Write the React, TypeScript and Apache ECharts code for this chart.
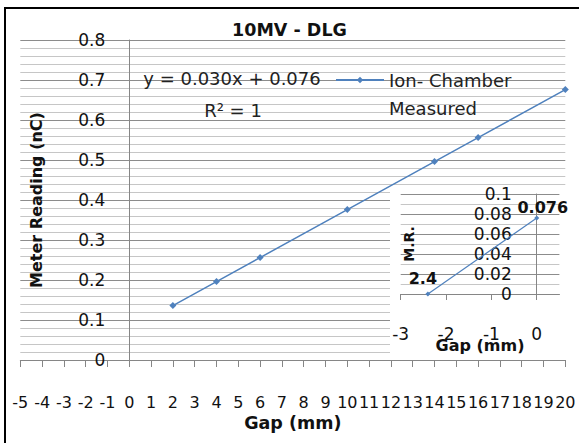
import React, { useEffect, useRef } from "react";
import * as echarts from "echarts";

const titleText = "10MV - DLG";
const gapMain = [2, 4, 6, 10, 14, 16, 20];
const meterMain = [0.136, 0.196, 0.256, 0.376, 0.496, 0.556, 0.676];
const seriesName = "Ion- Chamber Measured";
const legendLines = ["Ion- Chamber", "Measured"];
const equationText = "y = 0.030x + 0.076";
const r2Text = "R\u00B2 = 1";

const gapInset = [-2.4, 0];
const mrInset = [0, 0.076];
const insetLabels = ["2.4", "0.076"];
const insetXTicks = [-3, -2, -1, 0];

const FONT = "DejaVu Sans";
const BLUE = "#4F81BD";
const MAJOR = "#8c8c8c";
const MINOR = "#c6c6c6";
const AXIS = "#868686";

// grid geometry
const MAIN_LEFT = 20.3;
const MAIN_W = 545;
const MAIN_XMIN = -5;
const MAIN_XMAX = 20;
const INSET_LEFT = 400.7;
const INSET_W = 158.7;
const INSET_XMIN = -3;
const INSET_XMAX = 0.5;

export default function App() {
  const ref = useRef<HTMLDivElement>(null);
  useEffect(() => {
    if (!ref.current) return;
    const chart = echarts.init(ref.current, undefined, { renderer: "svg" });
    // y axes cross at x = 0: shift them from the grid's left edge
    const mainYOffset = -((0 - MAIN_XMIN) / (MAIN_XMAX - MAIN_XMIN)) * MAIN_W;
    const insetYOffset = -((0 - INSET_XMIN) / (INSET_XMAX - INSET_XMIN)) * INSET_W;
    const option: any = {
      animation: false,
      backgroundColor: "#fff",
      textStyle: { fontFamily: FONT },
      title: {
        text: titleText,
        left: "center",
        top: 16,
        textStyle: { fontFamily: FONT, fontSize: 17.5, fontWeight: "bold", color: "#111" },
      },
      legend: {
        data: [seriesName],
        left: 335,
        top: 38,
        padding: 0,
        itemWidth: 48,
        itemHeight: 8,
        formatter: () => " \n" + legendLines.join("\n"),
        textStyle: {
          fontFamily: FONT,
          fontSize: 18,
          lineHeight: 28,
          color: "#222",
        },
      },
      grid: [
        { left: MAIN_LEFT, top: 40, width: MAIN_W, height: 320, outerBoundsMode: "none", containLabel: false },
        { left: INSET_LEFT, top: 194, width: INSET_W, height: 100, outerBoundsMode: "none", containLabel: false },
      ],
      xAxis: [
        {
          type: "value",
          gridIndex: 0,
          min: MAIN_XMIN,
          max: MAIN_XMAX,
          interval: 1,
          z: 0,
          axisLine: { show: true, lineStyle: { color: AXIS, width: 1 } },
          axisTick: { show: true, length: 7, lineStyle: { color: AXIS } },
          axisLabel: { margin: 34, fontSize: 16, color: "#111", fontFamily: FONT, hideOverlap: false, showMinLabel: true, showMaxLabel: true },
          splitLine: { show: false },
          name: "Gap (mm)",
          nameLocation: "middle",
          nameGap: 54,
          nameMoveOverlap: false,
          nameTextStyle: { fontFamily: FONT, fontSize: 17.5, fontWeight: "bold", color: "#111" },
        },
        {
          type: "value",
          gridIndex: 1,
          min: INSET_XMIN,
          max: INSET_XMAX,
          interval: 1,
          z: 2,
          axisLine: { show: true, lineStyle: { color: AXIS, width: 1 } },
          axisTick: { show: true, length: 6, lineStyle: { color: AXIS }, customValues: insetXTicks },
          axisLabel: { margin: 31, fontSize: 17, color: "#111", fontFamily: FONT, customValues: insetXTicks },
          splitLine: { show: false },
          name: "Gap (mm)",
          nameLocation: "middle",
          nameGap: 43,
          nameMoveOverlap: false,
          nameTextStyle: { fontFamily: FONT, fontSize: 16, fontWeight: "bold", color: "#111" },
        },
      ],
      yAxis: [
        {
          type: "value",
          gridIndex: 0,
          min: 0,
          max: 0.8,
          interval: 0.1,
          z: 0,
          offset: mainYOffset,
          axisLine: { show: true, onZero: false, lineStyle: { color: AXIS, width: 1 } },
          axisTick: { show: false },
          axisLabel: { margin: 24, fontSize: 17, color: "#111", fontFamily: FONT },
          splitLine: { show: true, lineStyle: { color: MAJOR, width: 1 } },
          minorTick: { show: false, splitNumber: 5 },
          minorSplitLine: { show: true, lineStyle: { color: MINOR, width: 1 } },
          name: "Meter Reading (nC)",
          nameLocation: "middle",
          nameGap: 85,
          nameMoveOverlap: false,
          nameTextStyle: { fontFamily: FONT, fontSize: 16, fontWeight: "bold", color: "#111" },
        },
        {
          type: "value",
          gridIndex: 1,
          min: 0,
          max: 0.1,
          interval: 0.02,
          z: 2,
          offset: insetYOffset,
          axisLine: { show: true, onZero: false, lineStyle: { color: AXIS, width: 1 } },
          axisTick: { show: false },
          axisLabel: { margin: 25, fontSize: 17, color: "#111", fontFamily: FONT },
          splitLine: { show: true, lineStyle: { color: MAJOR, width: 1 } },
          minorTick: { show: false, splitNumber: 2 },
          minorSplitLine: { show: true, lineStyle: { color: MINOR, width: 1 } },
          name: "M.R.",
          nameLocation: "middle",
          nameGap: 121,
          nameMoveOverlap: false,
          nameTextStyle: { fontFamily: FONT, fontSize: 14, fontWeight: "bold", color: "#111" },
        },
      ],
      series: [
        {
          name: seriesName,
          type: "line",
          xAxisIndex: 0,
          yAxisIndex: 0,
          z: 5,
          data: gapMain.map((g, i) => [g, meterMain[i]]),
          symbol: "diamond",
          symbolSize: 7,
          lineStyle: { color: BLUE, width: 1.5 },
          itemStyle: { color: BLUE },
        },
        {
          name: "Intercept",
          type: "line",
          xAxisIndex: 1,
          yAxisIndex: 1,
          z: 3,
          data: gapInset.map((g, i) => ({
            value: [g, mrInset[i]],
            label: {
              show: true,
              formatter: insetLabels[i],
              position: "top",
              offset: i === 0 ? [-5, 0] : [6, 5],
            },
          })),
          symbol: "diamond",
          symbolSize: 5,
          lineStyle: { color: BLUE, width: 1.2 },
          itemStyle: { color: BLUE },
          label: { fontFamily: FONT, fontSize: 16, fontWeight: "bold", color: "#111" },
        },
      ],
      graphic: [
        {
          type: "rect",
          z: 1,
          shape: { x: 390, y: 188, width: 176, height: 168 },
          style: { fill: "#fff" },
          silent: true,
        },
        {
          type: "rect",
          z: 10,
          shape: { x: 5, y: 8, width: 640, height: 500 },
          style: { fill: "none", stroke: "#000", lineWidth: 2 },
          silent: true,
        },
        {
          type: "text",
          z: 10,
          x: 232,
          y: 78,
          style: {
            text: equationText,
            fontFamily: FONT,
            fontSize: 18,
            fill: "#222",
            textAlign: "center",
            textVerticalAlign: "middle",
          },
        },
        {
          type: "text",
          z: 10,
          x: 233,
          y: 110,
          style: {
            text: r2Text,
            fontFamily: FONT,
            fontSize: 18,
            fill: "#222",
            textAlign: "center",
            textVerticalAlign: "middle",
          },
        },
      ],
    };
    chart.setOption(option);
    return () => chart.dispose();
  }, []);
  return (
    <div
      ref={ref}
      style={{ position: "absolute", left: 0, top: 0, width: 579, height: 443 }}
    />
  );
}
